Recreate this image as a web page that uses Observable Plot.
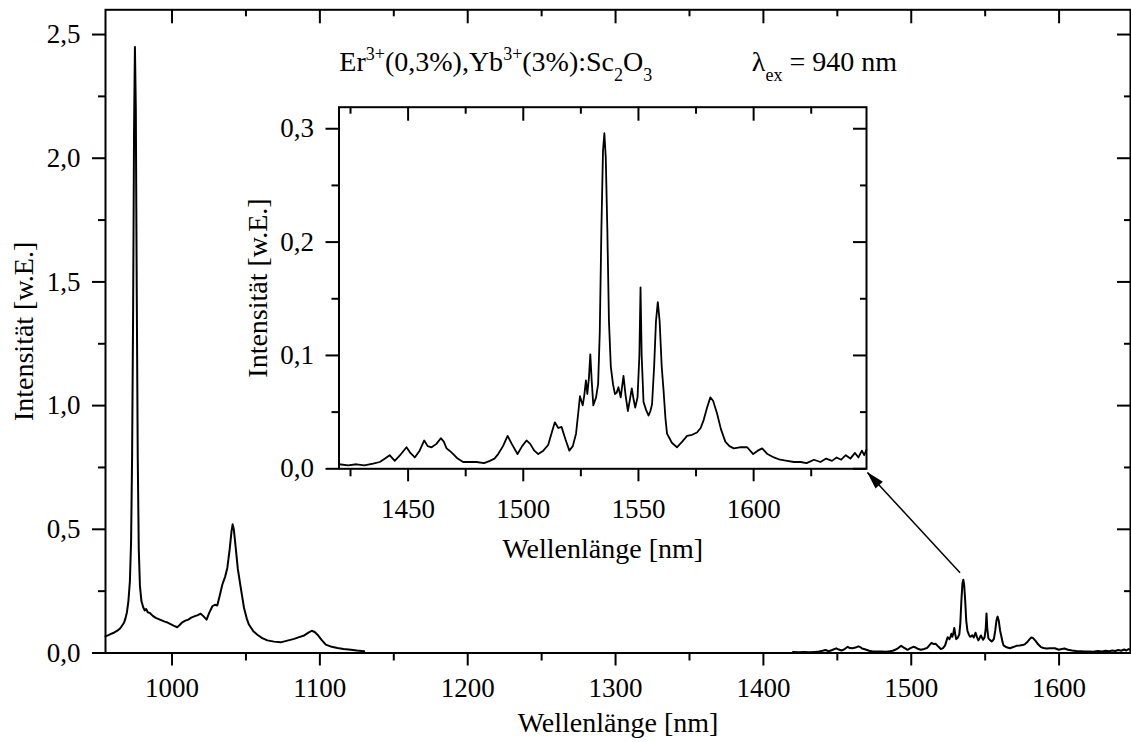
<!DOCTYPE html>
<html><head><meta charset="utf-8">
<script src="https://cdn.jsdelivr.net/npm/d3@7"></script>
<script src="https://cdn.jsdelivr.net/npm/@observablehq/plot@0.6"></script>
<style>
html,body{margin:0;padding:0;background:#fff;}
#wrap{position:relative;width:1131px;height:742px;overflow:hidden;background:#fff;}
#wrap svg{position:absolute;overflow:visible;}
#wrap svg, #wrap svg text, #wrap svg tspan{font-family:"Liberation Serif","Tinos","Times New Roman","DejaVu Serif",serif !important;}
</style></head><body><div id="wrap"></div>
<script>
const FONT = "Liberation Serif, Tinos, Times New Roman, DejaVu Serif, serif";

// ---- Data: Yb/Er band around 1 µm (main panel only) ----
const ybWavelength = [955,957,959,961,963,965,966.5,967.5,968.5,969.5,970.5,971.5,972.3,973,973.7,974.3,974.9,975.5,976.1,976.8,977.5,978.3,979.3,980.5,981.5,982.5,983.5,985,987,989,991,993,995,997,999,1001,1003.5,1005,1007,1009,1011,1013,1015,1017,1019.4,1021,1023.4,1025,1027.3,1029,1030.6,1032,1034,1036,1037.4,1039,1040.2,1041,1041.8,1043,1044.5,1046.5,1048.7,1050.5,1052,1055,1057.7,1061,1064.5,1069,1073.5,1078,1082.6,1086,1089.4,1092,1094.5,1096.5,1098.4,1101,1104,1108,1111.9,1116,1121,1125,1130];
const ybIntensity = [0.067,0.072,0.078,0.083,0.090,0.100,0.113,0.122,0.140,0.165,0.21,0.29,0.45,0.8,1.4,2.1,2.45,2.2,1.5,0.8,0.42,0.27,0.21,0.185,0.172,0.178,0.165,0.162,0.150,0.142,0.137,0.132,0.127,0.123,0.117,0.111,0.104,0.112,0.124,0.131,0.135,0.143,0.148,0.152,0.159,0.150,0.135,0.160,0.189,0.195,0.192,0.225,0.276,0.31,0.344,0.42,0.49,0.52,0.50,0.43,0.34,0.263,0.182,0.140,0.115,0.088,0.074,0.060,0.051,0.046,0.043,0.050,0.057,0.064,0.071,0.081,0.090,0.085,0.074,0.054,0.034,0.025,0.020,0.016,0.013,0.010,0.007];

// ---- Data: Er band around 1.5 µm (main panel and inset) ----
const erWavelength = [1420,1424,1427.6,1431,1434.8,1437.7,1440,1442,1444.2,1446.5,1449.3,1451,1452.9,1455,1457,1458.5,1460.2,1462.3,1464.2,1465.5,1466.7,1468,1469.6,1471.5,1473.9,1477,1479.7,1483,1485.5,1487.5,1489.1,1491.2,1493.2,1495,1497.5,1499.5,1501.4,1503,1504.8,1506.5,1508.7,1510.8,1512.5,1513.7,1515.2,1516.6,1518.3,1520,1521.5,1522.9,1523.9,1524.6,1525.8,1526.5,1527.2,1527.8,1528.5,1529.1,1529.7,1530.4,1531.6,1532.5,1533.2,1533.9,1534.6,1535.2,1535.8,1536.5,1537.2,1538,1539,1539.8,1540.5,1541.3,1542.3,1543.5,1544.4,1545.4,1546.2,1547.1,1548,1548.6,1549.6,1550.4,1550.9,1551.4,1552.2,1553.3,1554.4,1555.2,1555.9,1556.8,1557.6,1558.4,1559.2,1560.1,1560.9,1561.7,1562.4,1564.5,1566.7,1569,1571.1,1573.3,1575.4,1577,1578.3,1579.8,1581.2,1582.4,1584.1,1585.8,1587.7,1589.5,1591.4,1594,1597.2,1599.8,1601.8,1603.7,1606,1608.8,1611.5,1614.6,1617.5,1620.4,1623,1626.2,1629,1631.5,1634,1636,1638,1640,1642,1644,1645.5,1647,1648,1649];
const erIntensity = [0.004,0.003,0.004,0.003,0.0045,0.006,0.009,0.012,0.007,0.012,0.019,0.014,0.010,0.016,0.025,0.020,0.019,0.022,0.027,0.024,0.018,0.016,0.013,0.009,0.006,0.006,0.006,0.005,0.007,0.009,0.013,0.020,0.029,0.022,0.013,0.020,0.025,0.022,0.016,0.013,0.016,0.021,0.033,0.041,0.036,0.037,0.026,0.016,0.020,0.031,0.050,0.064,0.056,0.065,0.078,0.066,0.080,0.101,0.078,0.056,0.063,0.075,0.12,0.21,0.28,0.296,0.275,0.21,0.13,0.090,0.074,0.066,0.067,0.072,0.063,0.082,0.065,0.051,0.060,0.071,0.060,0.054,0.063,0.10,0.160,0.10,0.059,0.052,0.047,0.051,0.057,0.090,0.130,0.147,0.130,0.090,0.069,0.045,0.031,0.023,0.019,0.024,0.029,0.030,0.032,0.036,0.043,0.054,0.063,0.060,0.049,0.035,0.024,0.020,0.018,0.019,0.019,0.013,0.016,0.018,0.013,0.010,0.008,0.007,0.006,0.006,0.005,0.008,0.006,0.009,0.007,0.010,0.008,0.012,0.009,0.014,0.010,0.016,0.012,0.017];

// ---- Ticks ----
const mainXTicks = [1000,1100,1200,1300,1400,1500,1600];
const mainXMinor = [1050,1150,1250,1350,1450,1550];
const mainYTicks = [0,0.5,1,1.5,2,2.5];
const mainYMinor = [0.25,0.75,1.25,1.75,2.25];
const insetXTicks = [1450,1500,1550,1600];
const insetXMinor = [1425,1475,1525,1575,1625];
const insetYTicks = [0,0.1,0.2,0.3];
const insetYMinor = [0.05,0.15,0.25];

// ---- Texts ----
const axisTitleX = "Wellenlänge [nm]";
const axisTitleY = "Intensität [w.E.]";
const sampleLabel = [["Er",""],["3+","sup"],["(0,3%),Yb",""],["3+","sup"],["(3%):Sc",""],["2","sub"],["O",""],["3","sub"]];
const excitationLabel = [["λ",""],["ex","sub"],[" = 940 nm",""]];
const labelAnchors = [{x: 1113.5, y: 2.352}, {x: 1392.5, y: 2.352}];
const arrowLink = [{x1: 1533, y1: 0.324, x2: 1470.4, y2: 0.73}];

const commaFmt = d => d3.format(".1f")(d).replace(".", ",");
const toRows = (xs, ys) => xs.map((x, i) => ({x, y: ys[i]}));
const ybRows = toRows(ybWavelength, ybIntensity);
const erRows = toRows(erWavelength, erIntensity);

function richTextMark(parts, anchor) {
  return (index, scales) => {
    const t = d3.create("svg:text")
      .attr("x", scales.x(anchor.x)).attr("y", scales.y(anchor.y))
      .attr("text-anchor", "start")
      .attr("font-family", FONT).attr("font-size", 28).attr("fill", "black")
      .style("white-space", "pre");
    let shift = 0;
    for (const [s, kind] of parts) {
      const target = kind === "sup" ? -11 : kind === "sub" ? 10 : 0;
      t.append("tspan").attr("dy", target - shift).attr("font-size", kind ? 18 : 28).text(s);
      shift = target;
    }
    return t.node();
  };
}
function arrowHead(link, len, halfW) {
  return (index, scales) => {
    const g = d3.create("svg:g");
    for (const d of link) {
      const x1 = scales.x(d.x1), y1 = scales.y(d.y1), x2 = scales.x(d.x2), y2 = scales.y(d.y2);
      const L = Math.hypot(x2 - x1, y2 - y1), ux = (x2 - x1) / L, uy = (y2 - y1) / L;
      const bx = x2 - ux * len, by = y2 - uy * len;
      g.append("path")
        .attr("d", `M${x2},${y2}L${bx - uy * halfW},${by + ux * halfW}L${bx + uy * halfW},${by - ux * halfW}Z`)
        .attr("fill", "black");
    }
    return g.node();
  };
}

function boxAxes({xMajor, xMinor, yMajor, yMinor, plotW, plotH, xPad, yPad}) {
  return [
    Plot.axisX(xMajor, {anchor: "bottom", tickSize: 13, tickPadding: xPad, strokeWidth: 2, tickFormat: d => String(d), fontSize: 27, label: null}),
    Plot.axisX(xMinor, {anchor: "bottom", tickSize: 8, strokeWidth: 2, tickFormat: () => "", label: null}),
    Plot.axisY(yMajor, {anchor: "left", tickSize: 13, tickPadding: yPad, strokeWidth: 2, tickFormat: commaFmt, fontSize: 27, label: null}),
    Plot.axisY(yMinor, {anchor: "left", tickSize: 7, strokeWidth: 2, tickFormat: () => "", label: null}),
    Plot.tickX(xMajor, {x: d => d, insetBottom: plotH - 14, strokeWidth: 2}),
    Plot.tickX(xMinor, {x: d => d, insetBottom: plotH - 7, strokeWidth: 2}),
    Plot.tickY(yMajor, {y: d => d, insetLeft: plotW - 13, strokeWidth: 2}),
    Plot.tickY(yMinor, {y: d => d, insetLeft: plotW - 6, strokeWidth: 2}),
    Plot.frame({strokeWidth: 2})
  ];
}

const W = 1131, H = 742, mL = 105, mR = 1, mT = 9.3, mB = 89.5;
const main = Plot.plot({
  width: W, height: H, marginLeft: mL, marginRight: mR, marginTop: mT, marginBottom: mB,
  style: {fontFamily: FONT, fontSize: "27px", color: "black", background: "white"},
  x: {domain: [955, 1648.3], label: null},
  y: {domain: [0, 2.6], label: null},
  marks: [
    Plot.line(ybRows, {x: "x", y: "y", stroke: "black", strokeWidth: 2, strokeLinejoin: "round"}),
    Plot.line(erRows, {x: "x", y: "y", stroke: "black", strokeWidth: 2, strokeLinejoin: "round"}),
    ...boxAxes({xMajor: mainXTicks, xMinor: mainXMinor, yMajor: mainYTicks, yMinor: mainYMinor,
      plotW: W - mL - mR, plotH: H - mT - mB, xPad: 12, yPad: 12}),
    Plot.text([axisTitleX], {text: d => d, frameAnchor: "bottom", textAnchor: "middle", lineAnchor: "middle", dy: 70.2, fontSize: 28}),
    Plot.text([axisTitleY], {text: d => d, frameAnchor: "left", textAnchor: "middle", rotate: -90, dx: -81, lineAnchor: "middle", fontSize: 28}),
    Plot.link(arrowLink, {x1: "x1", y1: "y1", x2: "x2", y2: "y2", stroke: "black", strokeWidth: 1.5}),
    arrowHead(arrowLink, 18, 5),
    richTextMark(sampleLabel, labelAnchors[0]),
    richTextMark(excitationLabel, labelAnchors[1])
  ]
});
main.style.left = "0px"; main.style.top = "0px";

const iW = 641, iH = 485, iL = 108.5, iR = 5, iT = 11.7, iB = 111.7;
const inset = Plot.plot({
  width: iW, height: iH, marginLeft: iL, marginRight: iR, marginTop: iT, marginBottom: iB,
  style: {fontFamily: FONT, fontSize: "27px", color: "black", background: "transparent"},
  x: {domain: [1420, 1649], label: null},
  y: {domain: [0, 0.319], label: null},
  marks: [
    Plot.line(erRows, {x: "x", y: "y", stroke: "black", strokeWidth: 1.8, strokeLinejoin: "round"}),
    ...boxAxes({xMajor: insetXTicks, xMinor: insetXMinor, yMajor: insetYTicks, yMinor: insetYMinor,
      plotW: iW - iL - iR, plotH: iH - iT - iB, xPad: 17, yPad: 12}),
    Plot.text([axisTitleX], {text: d => d, frameAnchor: "bottom", textAnchor: "middle", lineAnchor: "middle", dy: 80.7, fontSize: 28}),
    Plot.text([axisTitleY], {text: d => d, frameAnchor: "left", textAnchor: "middle", rotate: -90, dx: -80.5, lineAnchor: "middle", fontSize: 28})
  ]
});
inset.style.left = "230px"; inset.style.top = "95px";

const wrap = document.getElementById("wrap");
wrap.appendChild(main);
wrap.appendChild(inset);
</script></body></html>
